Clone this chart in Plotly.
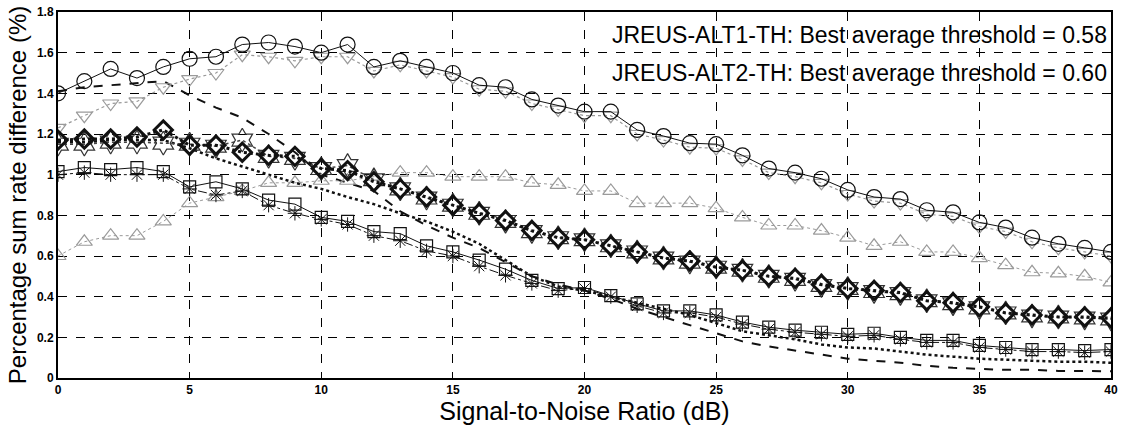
import plotly.graph_objects as go

snr = list(range(0, 41))

circles = [1.40, 1.46, 1.52, 1.475, 1.53, 1.57, 1.58, 1.64, 1.65, 1.63, 1.60,
           1.64, 1.53, 1.56, 1.53, 1.50, 1.44, 1.43, 1.37, 1.34, 1.31,
           1.31, 1.22, 1.19, 1.155, 1.15, 1.095, 1.03, 1.01, 0.98, 0.925,
           0.89, 0.88, 0.825, 0.815, 0.765, 0.74, 0.69, 0.66, 0.64, 0.62]

tri_down = [1.23, 1.29, 1.35, 1.36, 1.43, 1.47, 1.50, 1.59, 1.58, 1.56, 1.58,
            1.58, 1.51, 1.54, 1.51, 1.48, 1.42, 1.41, 1.35, 1.32, 1.29,
            1.29, 1.20, 1.17, 1.135, 1.13, 1.075, 1.01, 0.99, 0.96, 0.905,
            0.87, 0.86, 0.805, 0.795, 0.745, 0.72, 0.67, 0.64, 0.62, 0.60]

tri_up = [0.60, 0.67, 0.70, 0.70, 0.77, 0.86, 0.89, 0.92, 0.96, 0.96, 0.97,
          0.97, 0.99, 1.01, 1.01, 0.99, 0.99, 0.99, 0.96, 0.95, 0.92,
          0.92, 0.86, 0.86, 0.86, 0.835, 0.79, 0.75, 0.75, 0.725, 0.69,
          0.65, 0.67, 0.62, 0.62, 0.59, 0.555, 0.52, 0.515, 0.50, 0.47]

diamonds = [1.17, 1.175, 1.175, 1.185, 1.22, 1.145, 1.145, 1.11, 1.095, 1.09, 1.03,
            1.02, 0.965, 0.93, 0.89, 0.85, 0.81, 0.775, 0.725, 0.69, 0.68,
            0.65, 0.62, 0.59, 0.575, 0.545, 0.53, 0.50, 0.49, 0.46, 0.44,
            0.43, 0.42, 0.38, 0.37, 0.35, 0.32, 0.31, 0.30, 0.30, 0.295]

stars = [1.15, 1.15, 1.16, 1.16, 1.155, 1.15, 1.14, 1.17, 1.09, 1.08, 1.03,
         1.045, 0.975, 0.93, 0.885, 0.85, 0.81, 0.77, 0.72, 0.69, 0.68,
         0.65, 0.62, 0.59, 0.57, 0.545, 0.53, 0.50, 0.485, 0.455, 0.44,
         0.425, 0.415, 0.38, 0.365, 0.345, 0.32, 0.305, 0.30, 0.295, 0.29]

squares = [1.015, 1.035, 1.025, 1.035, 1.015, 0.94, 0.965, 0.93, 0.875, 0.855, 0.79,
           0.77, 0.72, 0.71, 0.65, 0.62, 0.58, 0.535, 0.48, 0.44, 0.445,
           0.405, 0.365, 0.33, 0.33, 0.31, 0.275, 0.25, 0.235, 0.225, 0.215,
           0.22, 0.20, 0.185, 0.185, 0.16, 0.15, 0.14, 0.14, 0.135, 0.14]

asterisks = [1.00, 1.01, 1.00, 1.00, 1.00, 0.93, 0.90, 0.92, 0.85, 0.81, 0.78,
             0.755, 0.70, 0.675, 0.625, 0.60, 0.55, 0.505, 0.465, 0.43, 0.44,
             0.40, 0.355, 0.32, 0.32, 0.30, 0.265, 0.24, 0.225, 0.215, 0.205,
             0.21, 0.19, 0.175, 0.175, 0.15, 0.14, 0.13, 0.13, 0.125, 0.13]

dashed = [1.41, 1.43, 1.44, 1.45, 1.46, 1.39, 1.33, 1.28, 1.20, 1.11, 1.00,
          0.96, 0.92, 0.82, 0.75, 0.69, 0.64, 0.57, 0.50, 0.46, 0.43,
          0.39, 0.34, 0.30, 0.26, 0.22, 0.18, 0.155, 0.135, 0.115, 0.095,
          0.085, 0.075, 0.06, 0.05, 0.045, 0.04, 0.04, 0.035, 0.035, 0.033]

dotted = [1.16, 1.16, 1.17, 1.17, 1.17, 1.13, 1.08, 1.04, 1.00, 0.96, 0.93,
          0.89, 0.855, 0.81, 0.77, 0.72, 0.66, 0.58, 0.50, 0.45, 0.43,
          0.40, 0.37, 0.34, 0.31, 0.27, 0.23, 0.21, 0.19, 0.165, 0.15,
          0.145, 0.13, 0.115, 0.105, 0.095, 0.09, 0.085, 0.08, 0.08, 0.075]

x_ticks = [0, 5, 10, 15, 20, 25, 30, 35, 40]
y_ticks = [0, 0.2, 0.4, 0.6, 0.8, 1.0, 1.2, 1.4, 1.6, 1.8]
y_tick_text = ["0", "0.2", "0.4", "0.6", "0.8", "1", "1.2", "1.4", "1.6", "1.8"]

notes = ["JREUS-ALT1-TH: Best average threshold = 0.58",
         "JREUS-ALT2-TH: Best average threshold = 0.60"]
note_y = [1.685, 1.50]

GRAY = "#9a9a9a"
BLACK = "#111111"
FONT = "Liberation Sans, Arial"

fig = go.Figure()

# lines without markers
fig.add_trace(go.Scatter(x=snr, y=dashed, mode="lines",
                         line=dict(color=BLACK, width=2, dash="dash")))
fig.add_trace(go.Scatter(x=snr, y=dotted, mode="lines",
                         line=dict(color=BLACK, width=2.5, dash="dot")))

# gray triangle series
fig.add_trace(go.Scatter(x=snr, y=tri_up, mode="lines+markers",
                         line=dict(color=GRAY, width=1, dash="dot"),
                         marker=dict(symbol="triangle-up-open", size=14,
                                     color=GRAY, line=dict(width=1.2))))
fig.add_trace(go.Scatter(x=snr, y=tri_down, mode="lines+markers",
                         line=dict(color=GRAY, width=1.2, dash="dot"),
                         marker=dict(symbol="triangle-down-open", size=14,
                                     color=GRAY, line=dict(width=1.2))))

# circles
fig.add_trace(go.Scatter(x=snr, y=circles, mode="lines+markers",
                         line=dict(color=BLACK, width=1),
                         marker=dict(symbol="circle-open", size=15,
                                     color=BLACK, line=dict(width=1.2))))

# squares and asterisks
fig.add_trace(go.Scatter(x=snr, y=asterisks, mode="lines+markers",
                         line=dict(color=BLACK, width=1, dash="dashdot"),
                         marker=dict(symbol="asterisk-open", size=12,
                                     color=BLACK, line=dict(width=1, color=BLACK))))
fig.add_trace(go.Scatter(x=snr, y=squares, mode="lines+markers",
                         line=dict(color=BLACK, width=1),
                         marker=dict(symbol="square-open", size=12,
                                     color=BLACK, line=dict(width=1.2))))

# stars and diamonds
fig.add_trace(go.Scatter(x=snr, y=stars, mode="lines+markers",
                         line=dict(color="#444444", width=1.5, dash="dot"),
                         marker=dict(symbol="hexagram-open", size=18,
                                     color="#333333", line=dict(width=1.2))))
fig.add_trace(go.Scatter(x=snr, y=diamonds, mode="lines+markers",
                         line=dict(color=BLACK, width=3, dash="dot"),
                         marker=dict(symbol="diamond-open", size=14,
                                     color=BLACK, line=dict(width=3))))

for txt, ny in zip(notes, note_y):
    fig.add_annotation(x=1.0, xref="paper", xanchor="right",
                       y=ny, yref="y", yanchor="middle",
                       text=txt, showarrow=False,
                       font=dict(family=FONT, size=23, color="#000000"),
                       xshift=-2)

axis_common = dict(showline=True, linecolor="#000000", linewidth=2, mirror=True,
                   showgrid=True, gridcolor="#000000", gridwidth=1.3,
                   griddash="dash", zeroline=False, ticks="", automargin=False,
                   tickfont=dict(family=FONT, size=12, color="#000000",
                                 weight="bold"))

fig.update_xaxes(range=[0, 40], tickvals=x_ticks,
                 title=dict(text="Signal-to-Noise Ratio (dB)", standoff=6,
                            font=dict(family=FONT, size=25, color="#000000")),
                 **axis_common)
fig.update_yaxes(range=[0, 1.8], tickvals=y_ticks, ticktext=y_tick_text,
                 title=dict(text="Percentage sum rate difference (%)", standoff=4,
                            font=dict(family=FONT, size=24, color="#000000")),
                 **axis_common)

fig.update_layout(width=1125, height=435, showlegend=False,
                  margin=dict(l=58, r=14, t=12, b=57),
                  paper_bgcolor="#ffffff", plot_bgcolor="#ffffff")

fig.write_html("out.html")
